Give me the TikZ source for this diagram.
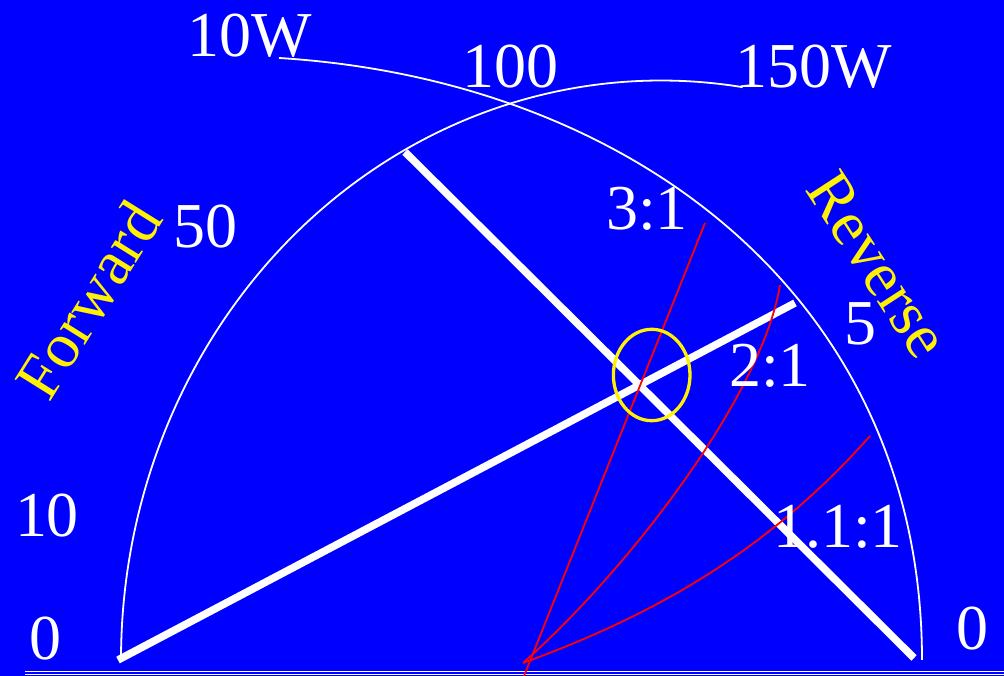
\documentclass[tikz,border=0pt]{standalone}
\usepackage{fontspec}
\setmainfont{Liberation Serif}
\usetikzlibrary{shapes.geometric}
\begin{document}
\begin{tikzpicture}[x=1pt,y=1pt,
  lbl/.style={text=white,font=\fontsize{64}{70}\selectfont,inner sep=0pt,anchor=base},
  ylbl/.style={text=yellow,font=\fontsize{64}{70}\selectfont,inner sep=0pt},
  thinarc/.style={draw=white,line width=1.8pt},
  thick line/.style={draw=white,line width=7.5pt},
  rcurve/.style={draw=red,line width=1.8pt}]
\fill[blue] (0,0) rectangle (1004,676);
\useasboundingbox (0,0) rectangle (1004,676);
% base line
\coordinate (bl) at (25,3);
\coordinate (br) at (1004,3);
\draw[white,line width=1pt,double=blue,double distance=1.4pt] (bl) -- (br);
% arc A (left / 150W)
\coordinate (aA) at (121,16);
\draw[thinarc] (aA) arc[start angle=180,end angle=81.3,x radius=540,y radius=579.5];
% arc B (10W / right)
\coordinate (bA) at (279,618);
\coordinate (bB) at (922,16);
\draw[thinarc] (bA) .. controls (634,596) and (922,376) .. (bB);
% thick lines
\coordinate (l1a) at (118,16);
\coordinate (l1b) at (795,373);
\coordinate (l2a) at (405,524);
\coordinate (l2b) at (914,18);
\draw[thick line] (l1a) -- (l1b);
\draw[thick line] (l2a) -- (l2b);
% red curves
\coordinate (r0) at (523,13);
\coordinate (r3a) at (524,0);
\coordinate (r3b) at (705,453);
\coordinate (r2b) at (780,391);
\coordinate (r1b) at (870,240);
\draw[rcurve] (r3a) -- (r3b);
\draw[rcurve] (r0) .. controls (630,108) and (762,281) .. (r2b);
\draw[rcurve] (r0) .. controls (640,56) and (760,116) .. (r1b);
% yellow circle
\node[draw=yellow,line width=3.3pt,ellipse,minimum width=76.6pt,minimum height=91.4pt,inner sep=0pt] (circ) at (651.7,301) {};
% labels
\node[lbl] (t10W) at (250,619) {10W};
\node[lbl] (t100) at (510,588) {100};
\node[lbl] (t150W) at (814,588) {150W};
\node[lbl] (t50) at (205,428) {50};
\node[lbl] (t5) at (860,331) {5};
\node[lbl] (t31) at (647,446) {3:1};
\node[lbl] (t21) at (770,289) {2:1};
\node[lbl] (t111) at (838,128) {1.1:1};
\node[lbl] (t10) at (47,139) {10};
\node[lbl] (t0l) at (45,16) {0};
\node[lbl] (t0r) at (972,26) {0};
\node[ylbl,rotate=58] (fwd) at (88,376) {Forward};
\node[ylbl,rotate=-57] (rev) at (878,411) {Reverse};
\end{tikzpicture}
\end{document}
